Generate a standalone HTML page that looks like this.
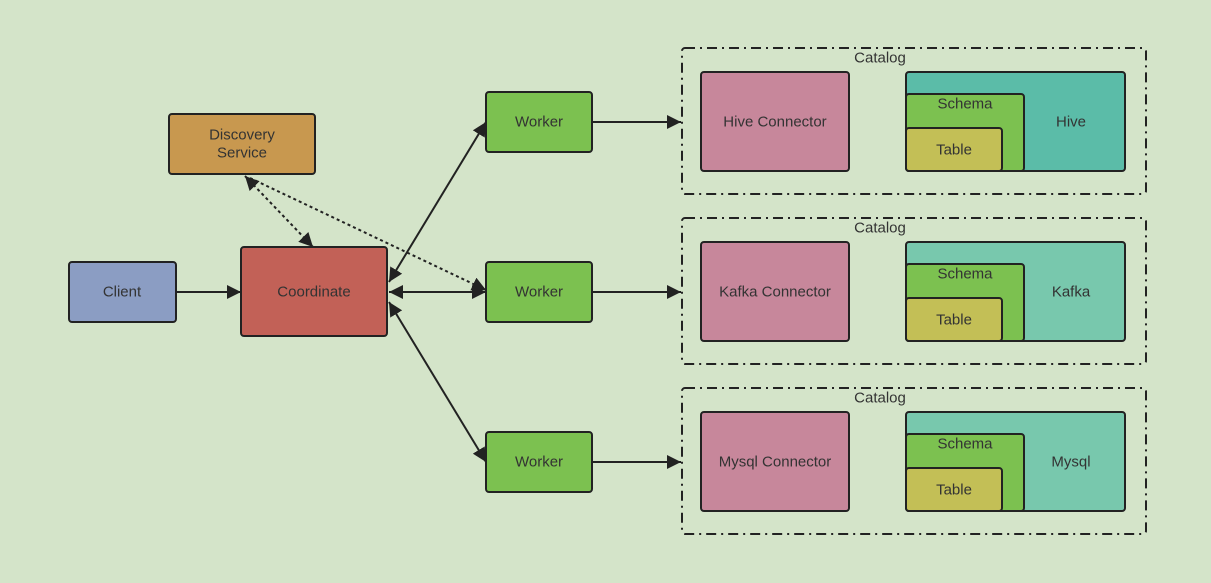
<!DOCTYPE html>
<html><head><style>
body{margin:0;background:#d4e4c9;}
svg text{font-family:"Liberation Sans","DejaVu Sans",sans-serif;font-size:15px;fill:#333;text-anchor:middle;dominant-baseline:central;}
</style></head><body>
<svg width="1211" height="578" xmlns="http://www.w3.org/2000/svg">
<defs>
<marker id="a" viewBox="0 0 10 10" refX="10" refY="5" markerWidth="10" markerHeight="10" markerUnits="userSpaceOnUse" orient="auto-start-reverse"><path d="M0,0 L10,5 L0,10 z" fill="#222"/></marker>
<marker id="b" viewBox="0 0 10 10" refX="10" refY="5" markerWidth="14" markerHeight="14" markerUnits="userSpaceOnUse" orient="auto-start-reverse"><path d="M0,0 L10,5 L0,10 z" fill="#222"/></marker>
</defs>
<rect width="1211" height="578" fill="#d4e4c9"/>
<g stroke="#222" stroke-width="2">
<rect x="169" y="114" width="146" height="60" rx="3" fill="#c8984f"/>
<rect x="69" y="262" width="107" height="60" rx="3" fill="#8b9dc3"/>
<rect x="241" y="247" width="146" height="89" rx="3" fill="#c26157"/>
<rect x="486" y="92" width="106" height="60" rx="3" fill="#7cc150"/>
<rect x="486" y="262" width="106" height="60" rx="3" fill="#7cc150"/>
<rect x="486" y="432" width="106" height="60" rx="3" fill="#7cc150"/>
</g>
<text x="242" y="135">Discovery</text><text x="242" y="153">Service</text>
<text x="122" y="292">Client</text>
<text x="314" y="292">Coordinate</text>
<text x="539" y="122">Worker</text><text x="539" y="292">Worker</text><text x="539" y="462">Worker</text>
<g stroke="#222" stroke-width="2" fill="none">
<line x1="176" y1="292" x2="241" y2="292" marker-end="url(#b)"/>
<line x1="389" y1="292" x2="486" y2="292" marker-start="url(#b)" marker-end="url(#b)"/>
<line x1="389" y1="282" x2="486" y2="122" marker-start="url(#b)" marker-end="url(#b)"/>
<line x1="389" y1="302" x2="486" y2="462" marker-start="url(#b)" marker-end="url(#b)"/>
<line x1="245" y1="176" x2="313" y2="247" stroke-dasharray="3,3" marker-start="url(#b)" marker-end="url(#b)"/>
<line x1="250" y1="178" x2="486" y2="290" stroke-dasharray="3,3" marker-end="url(#b)"/>
<line x1="592" y1="122" x2="681" y2="122" marker-end="url(#b)"/>
<line x1="592" y1="292" x2="681" y2="292" marker-end="url(#b)"/>
<line x1="592" y1="462" x2="681" y2="462" marker-end="url(#b)"/>
</g>
<g id="c1">
<rect x="682" y="48" width="464" height="146" rx="3" fill="none" stroke="#222" stroke-width="2" stroke-dasharray="10,5,2,5"/>
<text x="880" y="58">Catalog</text>
<rect x="701" y="72" width="148" height="99" rx="3" fill="#c7879b" stroke="#222" stroke-width="2"/>
<rect x="906" y="72" width="219" height="99" rx="3" fill="#5bbca8" stroke="#222" stroke-width="2"/>
<rect x="906" y="94" width="118" height="77" rx="3" fill="#7cc150" stroke="#222" stroke-width="2"/>
<rect x="906" y="128" width="96" height="43" rx="3" fill="#c3bf56" stroke="#222" stroke-width="2"/>
<text x="775" y="122">Hive Connector</text><text x="965" y="104">Schema</text><text x="954" y="150">Table</text><text x="1071" y="122">Hive</text>
</g>
<g transform="translate(0,170)">
<rect x="682" y="48" width="464" height="146" rx="3" fill="none" stroke="#222" stroke-width="2" stroke-dasharray="10,5,2,5"/>
<text x="880" y="58">Catalog</text>
<rect x="701" y="72" width="148" height="99" rx="3" fill="#c7879b" stroke="#222" stroke-width="2"/>
<rect x="906" y="72" width="219" height="99" rx="3" fill="#78c8ad" stroke="#222" stroke-width="2"/>
<rect x="906" y="94" width="118" height="77" rx="3" fill="#7cc150" stroke="#222" stroke-width="2"/>
<rect x="906" y="128" width="96" height="43" rx="3" fill="#c3bf56" stroke="#222" stroke-width="2"/>
<text x="775" y="122">Kafka Connector</text><text x="965" y="104">Schema</text><text x="954" y="150">Table</text><text x="1071" y="122">Kafka</text>
</g>
<g transform="translate(0,340)">
<rect x="682" y="48" width="464" height="146" rx="3" fill="none" stroke="#222" stroke-width="2" stroke-dasharray="10,5,2,5"/>
<text x="880" y="58">Catalog</text>
<rect x="701" y="72" width="148" height="99" rx="3" fill="#c7879b" stroke="#222" stroke-width="2"/>
<rect x="906" y="72" width="219" height="99" rx="3" fill="#78c8ad" stroke="#222" stroke-width="2"/>
<rect x="906" y="94" width="118" height="77" rx="3" fill="#7cc150" stroke="#222" stroke-width="2"/>
<rect x="906" y="128" width="96" height="43" rx="3" fill="#c3bf56" stroke="#222" stroke-width="2"/>
<text x="775" y="122">Mysql Connector</text><text x="965" y="104">Schema</text><text x="954" y="150">Table</text><text x="1071" y="122">Mysql</text>
</g>
</svg>
</body></html>
